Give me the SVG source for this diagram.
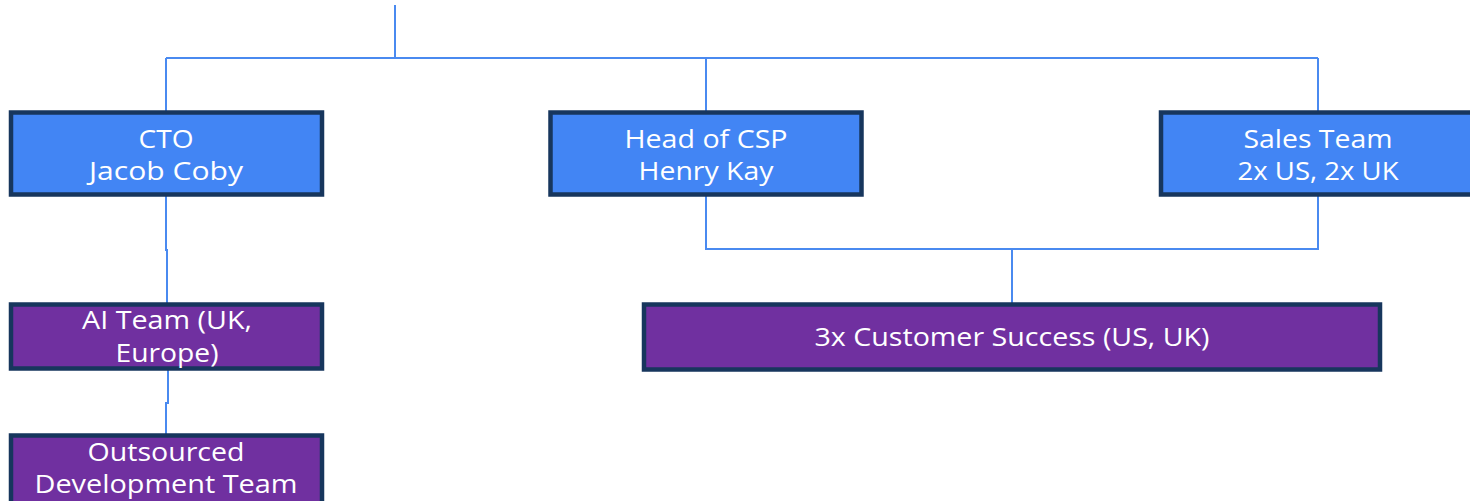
<svg xmlns="http://www.w3.org/2000/svg" width="1470" height="501" viewBox="0 0 1470 501">
<style>
.box{stroke:#17365D;stroke-width:4.5}
.blue{fill:#4285F4}
.purple{fill:#7030A0}
.t{font-family:"Open Sans","Liberation Sans",sans-serif;font-size:25px;fill:#FFFFFF;text-anchor:middle}
.c{fill:none;stroke:#4A8AF0;stroke-width:2}
</style>
<rect width="1470" height="501" fill="#FFFFFF"/>
<g id="connectors">
<path class="c" d="M395 5V58M166 58H1318M166 58V112M706 58V112M1318 58V112"/>
<path class="c" d="M166 196V250H167V304"/>
<path class="c" d="M168 370V403H166V436"/>
<path class="c" d="M706 196V249H1318V196M1012 249V304"/>
</g>
<g id="cto">
<rect class="box blue" x="11" y="112.5" width="311" height="82"/>
<text class="t" x="166" y="148" textLength="55" lengthAdjust="spacingAndGlyphs">CTO</text>
<text class="t" x="166" y="180" textLength="154" lengthAdjust="spacingAndGlyphs">Jacob Coby</text>
</g>
<g id="head-csp">
<rect class="box blue" x="550.5" y="112.5" width="311" height="82"/>
<text class="t" x="706" y="148" textLength="163" lengthAdjust="spacingAndGlyphs">Head of CSP</text>
<text class="t" x="706" y="180" textLength="135" lengthAdjust="spacingAndGlyphs">Henry Kay</text>
</g>
<g id="sales">
<rect class="box blue" x="1161" y="112.5" width="312" height="82"/>
<text class="t" x="1318" y="148" textLength="149" lengthAdjust="spacingAndGlyphs">Sales Team</text>
<text class="t" x="1318" y="180" textLength="161" lengthAdjust="spacingAndGlyphs">2x US, 2x UK</text>
</g>
<g id="ai-team">
<rect class="box purple" x="11" y="304.5" width="311" height="64"/>
<text class="t" x="167" y="329" textLength="170" lengthAdjust="spacingAndGlyphs">AI Team (UK,</text>
<text class="t" x="167" y="362" textLength="103" lengthAdjust="spacingAndGlyphs">Europe)</text>
</g>
<g id="outsourced">
<rect class="box purple" x="11" y="435.5" width="311" height="80"/>
<text class="t" x="166" y="461" textLength="157" lengthAdjust="spacingAndGlyphs">Outsourced</text>
<text class="t" x="166" y="493" textLength="263" lengthAdjust="spacingAndGlyphs">Development Team</text>
</g>
<g id="customer-success">
<rect class="box purple" x="644" y="304.5" width="736" height="65"/>
<text class="t" x="1012" y="346" textLength="395" lengthAdjust="spacingAndGlyphs">3x Customer Success (US, UK)</text>
</g>
</svg>
